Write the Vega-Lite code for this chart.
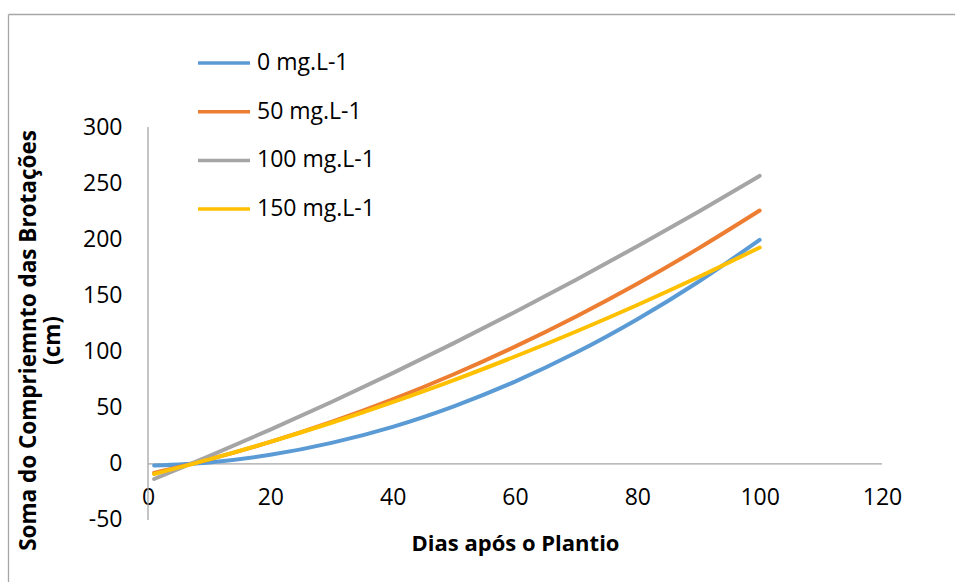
{
  "$schema": "https://vega.github.io/schema/vega-lite/v6.json",
  "width": 947,
  "height": 568,
  "autosize": {"type": "none"},
  "padding": {"left": 8, "top": 14, "right": 0, "bottom": 0},
  "background": "white",
  "config": {
    "view": {"stroke": null},
    "font": "Open Sans",
    "axis": {"grid": false, "labelColor": "#000000", "titleColor": "#000000"}
  },
  "datasets": {
    "eixos": [
      {"x": 0, "x2": 120, "y": 0, "y2": 0},
      {"x": 0, "x2": 0, "y": -50, "y2": 300}
    ],
    "curvas": [
      {"dose": "0 mg.L-1", "dias": 1, "soma": -1.5},
      {"dose": "0 mg.L-1", "dias": 10, "soma": 1.3},
      {"dose": "0 mg.L-1", "dias": 20, "soma": 8.1},
      {"dose": "0 mg.L-1", "dias": 30, "soma": 18.7},
      {"dose": "0 mg.L-1", "dias": 40, "soma": 33.0},
      {"dose": "0 mg.L-1", "dias": 50, "soma": 51.3},
      {"dose": "0 mg.L-1", "dias": 60, "soma": 73.3},
      {"dose": "0 mg.L-1", "dias": 70, "soma": 99.1},
      {"dose": "0 mg.L-1", "dias": 80, "soma": 128.8},
      {"dose": "0 mg.L-1", "dias": 90, "soma": 162.2},
      {"dose": "0 mg.L-1", "dias": 100, "soma": 199.5},
      {"dose": "50 mg.L-1", "dias": 1, "soma": -8.0},
      {"dose": "50 mg.L-1", "dias": 10, "soma": 4.0},
      {"dose": "50 mg.L-1", "dias": 20, "soma": 19.5},
      {"dose": "50 mg.L-1", "dias": 30, "soma": 37.3},
      {"dose": "50 mg.L-1", "dias": 40, "soma": 57.4},
      {"dose": "50 mg.L-1", "dias": 50, "soma": 79.8},
      {"dose": "50 mg.L-1", "dias": 60, "soma": 104.4},
      {"dose": "50 mg.L-1", "dias": 70, "soma": 131.3},
      {"dose": "50 mg.L-1", "dias": 80, "soma": 160.4},
      {"dose": "50 mg.L-1", "dias": 90, "soma": 191.9},
      {"dose": "50 mg.L-1", "dias": 100, "soma": 225.6},
      {"dose": "100 mg.L-1", "dias": 1, "soma": -13.5},
      {"dose": "100 mg.L-1", "dias": 10, "soma": 6.9},
      {"dose": "100 mg.L-1", "dias": 20, "soma": 30.5},
      {"dose": "100 mg.L-1", "dias": 30, "soma": 55.1},
      {"dose": "100 mg.L-1", "dias": 40, "soma": 80.8},
      {"dose": "100 mg.L-1", "dias": 50, "soma": 107.5},
      {"dose": "100 mg.L-1", "dias": 60, "soma": 135.2},
      {"dose": "100 mg.L-1", "dias": 70, "soma": 164.0},
      {"dose": "100 mg.L-1", "dias": 80, "soma": 193.8},
      {"dose": "100 mg.L-1", "dias": 90, "soma": 224.6},
      {"dose": "100 mg.L-1", "dias": 100, "soma": 256.5},
      {"dose": "150 mg.L-1", "dias": 1, "soma": -9.0},
      {"dose": "150 mg.L-1", "dias": 10, "soma": 4.0},
      {"dose": "150 mg.L-1", "dias": 20, "soma": 19.6},
      {"dose": "150 mg.L-1", "dias": 30, "soma": 36.6},
      {"dose": "150 mg.L-1", "dias": 40, "soma": 55.0},
      {"dose": "150 mg.L-1", "dias": 50, "soma": 74.6},
      {"dose": "150 mg.L-1", "dias": 60, "soma": 95.6},
      {"dose": "150 mg.L-1", "dias": 70, "soma": 117.9},
      {"dose": "150 mg.L-1", "dias": 80, "soma": 141.5},
      {"dose": "150 mg.L-1", "dias": 90, "soma": 166.4},
      {"dose": "150 mg.L-1", "dias": 100, "soma": 192.7}
    ]
  },
  "layer": [
    {
      "data": {"name": "eixos"},
      "mark": {"type": "rule", "color": "#a6a6a6", "strokeWidth": 1.3},
      "encoding": {
        "x": {
          "field": "x",
          "type": "quantitative",
          "scale": {"domain": [-22.888, 131.935], "nice": false, "zero": false},
          "axis": {"orient": "top", "domain": true, "domainColor": "#a6a6a6", "domainWidth": 1.3, "labels": false, "ticks": false, "title": null}
        },
        "x2": {"field": "x2"},
        "y": {
          "field": "y",
          "type": "quantitative",
          "scale": {"domain": [-105.22, 400.64], "nice": false, "zero": false},
          "axis": {"orient": "left", "domain": true, "domainColor": "#a6a6a6", "domainWidth": 1.3, "labels": false, "ticks": false, "title": null}
        },
        "y2": {"field": "y2"}
      }
    },
    {
      "data": {"name": "curvas"},
      "mark": {"type": "line", "strokeWidth": 4, "strokeCap": "round", "interpolate": "monotone"},
      "encoding": {
        "x": {
          "field": "dias",
          "type": "quantitative",
          "scale": {"domain": [-22.888, 131.935], "nice": false, "zero": false},
          "axis": {
            "orient": "bottom",
            "offset": -118,
            "domain": false,
            "ticks": false,
            "values": [0, 20, 40, 60, 80, 100, 120],
            "labelFontSize": 23,
            "labelPadding": 33,
            "labelBaseline": "middle",
            "labelFlush": false,
            "labelOverlap": false,
            "title": "Dias após o Plantio",
            "titleFontSize": 22,
            "titleFontWeight": "bold",
            "titleX": 507,
            "titleY": 79,
            "titleBaseline": "middle",
            "titleAlign": "center"
          }
        },
        "y": {
          "field": "soma",
          "type": "quantitative",
          "scale": {"domain": [-105.22, 400.64], "nice": false, "zero": false},
          "axis": {
            "orient": "left",
            "offset": -140,
            "domain": false,
            "ticks": false,
            "values": [-50, 0, 50, 100, 150, 200, 250, 300],
            "labelExpr": "toString(datum.value)",
            "labelFontSize": 23,
            "labelPadding": 26,
            "labelFlush": false,
            "labelOverlap": false,
            "title": ["Soma do Compriemnto das Brotações", "(cm)"],
            "titleFontSize": 22.5,
            "titleFontWeight": "bold",
            "titleLineHeight": 24,
            "titleAngle": -90,
            "titleX": -120,
            "titleY": 326,
            "titleBaseline": "middle",
            "titleAlign": "center"
          }
        },
        "color": {
          "field": "dose",
          "type": "nominal",
          "scale": {
            "domain": ["0 mg.L-1", "50 mg.L-1", "100 mg.L-1", "150 mg.L-1"],
            "range": ["#5b9bd5", "#ed7d31", "#a5a5a5", "#ffc000"]
          },
          "legend": {
            "orient": "none",
            "legendX": 188,
            "legendY": 21,
            "title": null,
            "padding": 0,
            "symbolType": "stroke",
            "symbolSize": 2704,
            "symbolStrokeWidth": 3.5,
            "labelFontSize": 23,
            "labelColor": "#000000",
            "labelOffset": 5,
            "rowPadding": 8.7
          }
        }
      }
    }
  ],
  "resolve": {"axis": {"x": "independent", "y": "independent"}}
}
